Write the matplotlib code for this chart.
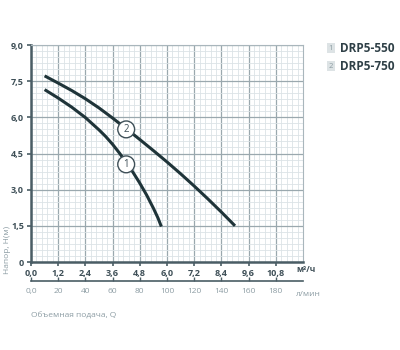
import matplotlib
matplotlib.use("Agg")
import matplotlib.pyplot as plt
import numpy as np
from matplotlib.ticker import MultipleLocator, FixedLocator

plt.rcParams['font.family'] = ['Open Sans', 'DejaVu Sans']

# Data (Q in m3/h, H in m)
q1 = [0.6, 1.2, 1.8, 2.4, 3.0, 3.3, 3.6, 3.9, 4.2, 4.5, 4.8, 5.1, 5.4, 5.6, 5.75]
h1 = [7.15, 6.8, 6.42, 5.99, 5.48, 5.2, 4.88, 4.52, 4.13, 3.72, 3.27, 2.78, 2.23, 1.83, 1.47]
q2 = [0.6, 1.2, 1.8, 2.4, 3.0, 3.6, 4.2, 4.8, 5.4, 6.0, 6.6, 7.2, 7.8, 8.4, 9.0]
h2 = [7.72, 7.42, 7.11, 6.77, 6.39, 5.97, 5.53, 5.08, 4.62, 4.15, 3.66, 3.15, 2.62, 2.07, 1.5]
names = ["DRP5-550", "DRP5-750"]
xticks = [0.0, 1.2, 2.4, 3.6, 4.8, 6.0, 7.2, 8.4, 9.6, 10.8]
xticklabels = ["0,0", "1,2", "2,4", "3,6", "4,8", "6,0", "7,2", "8,4", "9,6", "10,8"]
yticks = [0, 1.5, 3.0, 4.5, 6.0, 7.5, 9.0]
yticklabels = ["0", "1,5", "3,0", "4,5", "6,0", "7,5", "9,0"]
lticks = [0, 20, 40, 60, 80, 100, 120, 140, 160, 180]
lticklabels = ["0,0", "20", "40", "60", "80", "100", "120", "140", "160", "180"]

dark = '#4a5d65'
light = '#8d9da4'
curve = '#1f3439'

fig = plt.figure(figsize=(4, 3.5), dpi=100)
ax = fig.add_axes([31/400, 1-262/350, 272/400, 217/350])
ax.set_xlim(0, 12)
ax.set_ylim(0, 9)

ax.xaxis.set_major_locator(FixedLocator(xticks))
ax.set_xticklabels(xticklabels)
ax.yaxis.set_major_locator(FixedLocator(yticks))
ax.set_yticklabels(yticklabels)
ax.xaxis.set_minor_locator(MultipleLocator(0.24))
ax.yaxis.set_minor_locator(MultipleLocator(0.25))
ax.grid(which='minor', color='#dce3e6', lw=0.6)
ax.grid(which='major', color='#9aa8ae', lw=0.9)
ax.set_axisbelow(True)

for s in ['left', 'bottom']:
    ax.spines[s].set_color(dark)
    ax.spines[s].set_linewidth(1.8)
for s in ['top', 'right']:
    ax.spines[s].set_color('#a9b6bc')
    ax.spines[s].set_linewidth(0.8)

ax.tick_params(which='minor', length=0)
ax.tick_params(which='major', length=3, width=1.2, color=dark, labelsize=6.5,
               labelcolor='#3e4f57', pad=2)
for lab in ax.get_xticklabels() + ax.get_yticklabels():
    lab.set_fontweight('bold')

ax.plot(q1, h1, color=curve, lw=2.2, solid_capstyle='butt', solid_joinstyle='round', zorder=3)
ax.plot(q2, h2, color=curve, lw=2.2, solid_capstyle='butt', solid_joinstyle='round', zorder=3)

for txt, (x, y) in [("1", (4.2, 4.05)), ("2", (4.2, 5.5))]:
    ax.text(x, y, txt, ha='center', va='center', fontsize=7, color='#3e4f57', zorder=5,
            bbox=dict(boxstyle='circle,pad=0.3', fc='white', ec='#3e4f57', lw=1.0))

# secondary axis (l/min)
sec = ax.secondary_xaxis(-19/217, functions=(lambda x: x * 1000 / 60, lambda v: v * 60 / 1000))
sec.xaxis.set_major_locator(FixedLocator(lticks))
sec.set_xticklabels(lticklabels)
sec.tick_params(direction='in', length=3, width=1.0, color=dark, labelsize=6,
                labelcolor=light, pad=5)
sec.spines['bottom'].set_color(dark)
sec.spines['bottom'].set_linewidth(1.2)

fig.text(306/400, 1-270/350, "м³/ч", fontsize=6, color='#3e4f57', fontweight='bold',
         ha='center', va='center')
fig.text(308/400, 1-294/350, "л/мин", fontsize=6, color=light, ha='center', va='center')
fig.text(31/400, 1-316/350, "Объемная подача, Q", fontsize=6, color=light, ha='left', va='center')
fig.text(8/400, 1-250/350, "Напор, H(м)", fontsize=6, color=light, ha='center', va='center',
         rotation=90)

# legend
for i, (nm, yy) in enumerate(zip(names, [48, 66])):
    fig.text(331/400, 1-yy/350, str(i+1), fontsize=5.5, color='#8a9aa0', ha='center', va='center',
             bbox=dict(boxstyle='square,pad=0.2', fc='#dde3e5', ec='none'))
    fig.text(340/400, 1-yy/350, nm, fontsize=8.5, color='#2f4047', fontweight='bold',
             ha='left', va='center')

fig.savefig("out.png", dpi=100)
